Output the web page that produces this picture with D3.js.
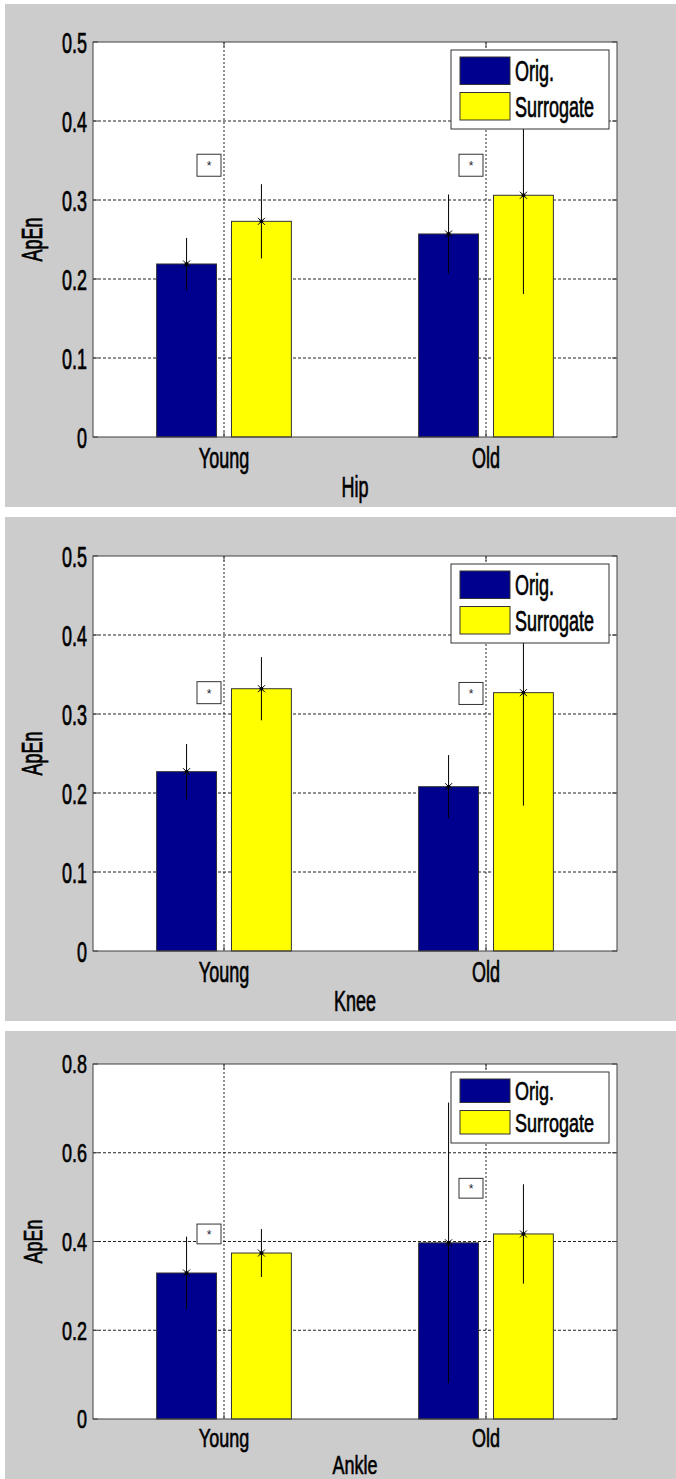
<!DOCTYPE html>
<html>
<head>
<meta charset="utf-8">
<script src="https://cdn.jsdelivr.net/npm/d3@7"></script>
<style>
  body { margin: 0; background: #fff; }
  svg { display: block; }
</style>
</head>
<body>
<svg id="chart" width="676" height="1479"></svg>
<script>
// ---- data ----
const groups = ["Young", "Old"];
const series = ["Orig.", "Surrogate"];

const hipOrig = [0.219, 0.257];
const hipOrigErr = [0.033, 0.050];
const hipSurrogate = [0.273, 0.306];
const hipSurrogateErr = [0.047, 0.125];
const hipStar = [0.344, 0.344];

const kneeOrig = [0.227, 0.208];
const kneeOrigErr = [0.035, 0.040];
const kneeSurrogate = [0.332, 0.327];
const kneeSurrogateErr = [0.040, 0.143];
const kneeStar = [0.327, 0.326];

const ankleOrig = [0.329, 0.397];
const ankleOrigErr = [0.082, 0.316];
const ankleSurrogate = [0.374, 0.417];
const ankleSurrogateErr = [0.054, 0.112];
const ankleStar = [0.417, 0.520];

const ticksHipKnee = [0, 0.1, 0.2, 0.3, 0.4, 0.5];
const ticksAnkle = [0, 0.2, 0.4, 0.6, 0.8];

const colors = ["#00008f", "#ffff00"];

// ---- drawing ----
const svg = d3.select("#chart");
const FONT = "'Liberation Sans', Arial, sans-serif";
const SX = 0.62;
const fmt = d => d === 0 ? "0" : d3.format(".1f")(d);

function txt(g, s, x, y, o) {
  g.append("text")
    .attr("transform", `translate(${x},${y})` + (o.rotate ? " rotate(-90)" : "") + ` scale(${SX},${o.sy || 1})`)
    .attr("font-family", FONT)
    .attr("font-size", o.size || 29)
    .attr("text-anchor", o.anchor || "middle")
    .attr("fill", "#000")
    .attr("stroke", "#000").attr("stroke-width", 0.7)
    .text(s);
}

function drawPanel(p) {
  const g = svg.append("g");
  const L = 93, R = 617;

  g.append("rect").attr("x", 5).attr("y", p.bgTop)
    .attr("width", 671).attr("height", p.bgBottom - p.bgTop).attr("fill", "#cccccc");
  g.append("rect").attr("x", L).attr("y", p.top)
    .attr("width", R - L).attr("height", p.bottom - p.top).attr("fill", "#fff");

  const x0 = d3.scaleBand().domain(groups).range([L, R]);
  const x1 = d3.scaleBand().domain(series).range([0, x0.bandwidth()])
    .paddingInner(0.2).paddingOuter(0.85);
  const y = d3.scaleLinear().domain([0, p.max]).range([p.bottom, p.top]);
  const cx = d => x0(d) + x0.bandwidth() / 2;

  // grid
  g.append("g").selectAll("line").data(p.ticks.slice(1, -1)).join("line")
    .attr("x1", L).attr("x2", R).attr("y1", d => y(d)).attr("y2", d => y(d))
    .attr("stroke", "#222").attr("stroke-dasharray", "3,2");
  g.append("g").selectAll("line").data(groups).join("line")
    .attr("x1", cx).attr("x2", cx).attr("y1", p.top).attr("y2", p.bottom)
    .attr("stroke", "#222").attr("stroke-dasharray", "2,2");

  // bars
  const rows = groups.map((grp, i) => [
    { grp, s: series[0], v: p.orig[i], e: p.origErr[i], c: colors[0] },
    { grp, s: series[1], v: p.surr[i], e: p.surrErr[i], c: colors[1] }
  ]).flat();

  g.append("g").selectAll("rect").data(rows).join("rect")
    .attr("x", d => x0(d.grp) + x1(d.s))
    .attr("y", d => y(d.v))
    .attr("width", x1.bandwidth())
    .attr("height", d => y(0) - y(d.v))
    .attr("fill", d => d.c)
    .attr("stroke", "#333").attr("stroke-width", 1);

  // error bars
  const bx = d => x0(d.grp) + x1(d.s) + x1.bandwidth() / 2;
  const eg = g.append("g").attr("stroke", "#000").attr("stroke-width", 1);
  eg.selectAll(".err").data(rows).join("line")
    .attr("x1", bx).attr("x2", bx)
    .attr("y1", d => y(d.v - d.e)).attr("y2", d => y(d.v + d.e));
  eg.selectAll(".mk").data(rows).join("path")
    .attr("d", d => {
      const X = bx(d), Y = y(d.v), r = 3.5;
      return `M${X - r},${Y - r}L${X + r},${Y + r}M${X - r},${Y + r}L${X + r},${Y - r}`;
    });
  eg.selectAll("circle").data(rows).join("circle")
    .attr("cx", bx).attr("cy", d => y(d.v)).attr("r", 1.5).attr("fill", "#000");

  // axes box and ticks
  const ax = g.append("g").attr("stroke", "#404040").attr("stroke-width", 1);
  ax.append("rect").attr("x", L).attr("y", p.top).attr("width", R - L)
    .attr("height", p.bottom - p.top).attr("fill", "none");
  p.ticks.forEach(t => {
    ax.append("line").attr("x1", L).attr("x2", L + 5).attr("y1", y(t)).attr("y2", y(t));
    ax.append("line").attr("x1", R - 5).attr("x2", R).attr("y1", y(t)).attr("y2", y(t));
  });
  groups.forEach(grp => {
    ax.append("line").attr("x1", cx(grp)).attr("x2", cx(grp)).attr("y1", p.top).attr("y2", p.top + 5);
    ax.append("line").attr("x1", cx(grp)).attr("x2", cx(grp)).attr("y1", p.bottom - 5).attr("y2", p.bottom);
  });

  // tick labels
  p.ticks.forEach(t => txt(g, fmt(t), 87, y(t) + 10.5 * p.sy, { anchor: "end", sy: p.sy }));
  groups.forEach(grp => txt(g, grp, cx(grp), p.bottom + p.tickDy, { sy: p.sy }));
  txt(g, p.xLabel, (L + R) / 2, p.bottom + p.labelDy, { sy: p.sy });
  txt(g, "ApEn", 42, (p.top + p.bottom) / 2, { rotate: true, sy: p.sy });

  // significance boxes
  const bw = 24, bh = 22 * p.sy;
  groups.forEach((grp, i) => {
    const sx = cx(grp) - 15, sy = y(p.star[i]);
    g.append("rect").attr("x", sx - bw / 2).attr("y", sy - bh / 2)
      .attr("width", bw).attr("height", bh)
      .attr("fill", "#fff").attr("stroke", "#333").attr("stroke-width", 1);
    g.append("text").attr("x", sx).attr("y", sy + 5)
      .attr("font-family", FONT).attr("font-size", 12)
      .attr("text-anchor", "middle").attr("fill", "#223").text("*");
  });

  // legend
  const lx = 451, ly = p.top + 8, lw = 158;
  const rowH = (p.legH - 8) / 2;
  g.append("rect").attr("x", lx).attr("y", ly).attr("width", lw).attr("height", p.legH)
    .attr("fill", "#fff").attr("stroke", "#333").attr("stroke-width", 1);
  series.forEach((s, i) => {
    const sy0 = ly + 7 + i * rowH, sh = rowH - 8;
    g.append("rect").attr("x", 460).attr("y", sy0).attr("width", 50).attr("height", sh)
      .attr("fill", colors[i]).attr("stroke", "#333");
    txt(g, s, 515, sy0 + sh / 2 + 10.5 * p.sy, { anchor: "start", sy: p.sy });
  });
}

drawPanel({
  bgTop: 4, bgBottom: 507, top: 42, bottom: 437, max: 0.5, ticks: ticksHipKnee,
  orig: hipOrig, origErr: hipOrigErr, surr: hipSurrogate, surrErr: hipSurrogateErr,
  star: hipStar, xLabel: "Hip", legH: 79, sy: 1, tickDy: 31, labelDy: 60
});
drawPanel({
  bgTop: 517, bgBottom: 1021, top: 556, bottom: 951, max: 0.5, ticks: ticksHipKnee,
  orig: kneeOrig, origErr: kneeOrigErr, surr: kneeSurrogate, surrErr: kneeSurrogateErr,
  star: kneeStar, xLabel: "Knee", legH: 79, sy: 1, tickDy: 31, labelDy: 60
});
drawPanel({
  bgTop: 1031, bgBottom: 1479, top: 1064, bottom: 1419, max: 0.8, ticks: ticksAnkle,
  orig: ankleOrig, origErr: ankleOrigErr, surr: ankleSurrogate, surrErr: ankleSurrogateErr,
  star: ankleStar, xLabel: "Ankle", legH: 71, sy: 0.9, tickDy: 28, labelDy: 55
});
</script>
</body>
</html>
